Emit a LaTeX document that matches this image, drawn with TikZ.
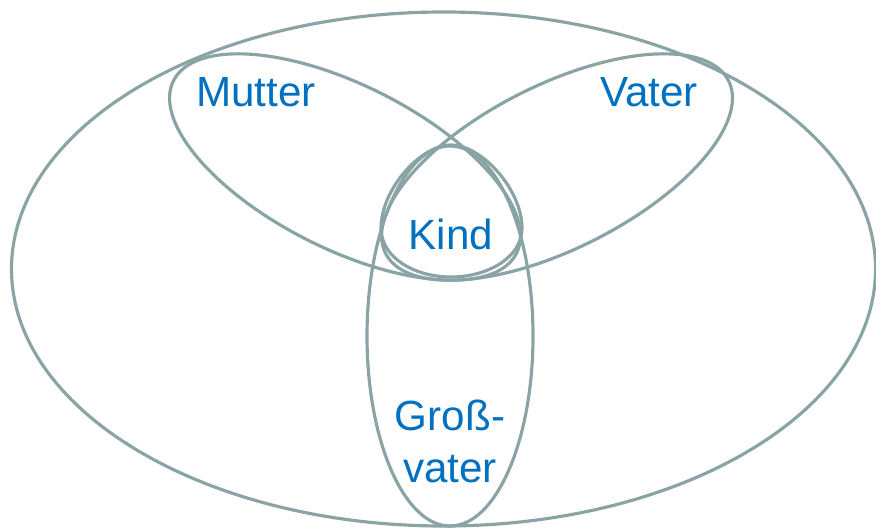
\documentclass[tikz,border=0pt]{standalone}
\usepackage{fontspec}
\setmainfont{Liberation Sans}
\definecolor{rand}{RGB}{138,164,166}
\definecolor{schrift}{RGB}{0,112,192}
\begin{document}
\begin{tikzpicture}[line join=round, line cap=round, menge/.style={draw=rand, line width=0.9pt}, lbl/.style={text=schrift, font=\fontsize{12}{14.8}\selectfont, inner sep=0pt, align=center}]
			\useasboundingbox (0,0) rectangle (8.76,5.28);
			\draw[menge] (4.435,2.59) ellipse [x radius=4.32, y radius=2.57];
			\draw[menge, rotate around={-26.7:(3.45,3.61)}] (3.45,3.61) ellipse [x radius=1.92, y radius=0.82];
			\draw[menge, rotate around={26.7:(5.57,3.61)}] (5.57,3.61) ellipse [x radius=1.92, y radius=0.82];
			\draw[menge] (4.50,1.92) ellipse [x radius=0.83, y radius=1.90];
			\draw[menge] (4.51,3.83) .. controls (4.20,3.83) and (3.81,3.38) .. (3.81,3.00) .. controls (3.81,2.70) and (4.15,2.51) .. (4.51,2.51) .. controls (4.87,2.51) and (5.22,2.70) .. (5.22,3.00) .. controls (5.22,3.38) and (4.82,3.83) .. (4.51,3.83);
			\node[lbl] (mutter) at (2.56,4.36) {Mutter};
			\node[lbl] (vater) at (6.49,4.36) {Vater};
			\node[lbl] (kind) at (4.51,2.94) {Kind};
			\node[lbl] (grossvater) at (4.50,0.87) {Groß-\\vater};
		\end{tikzpicture}
\end{document}
